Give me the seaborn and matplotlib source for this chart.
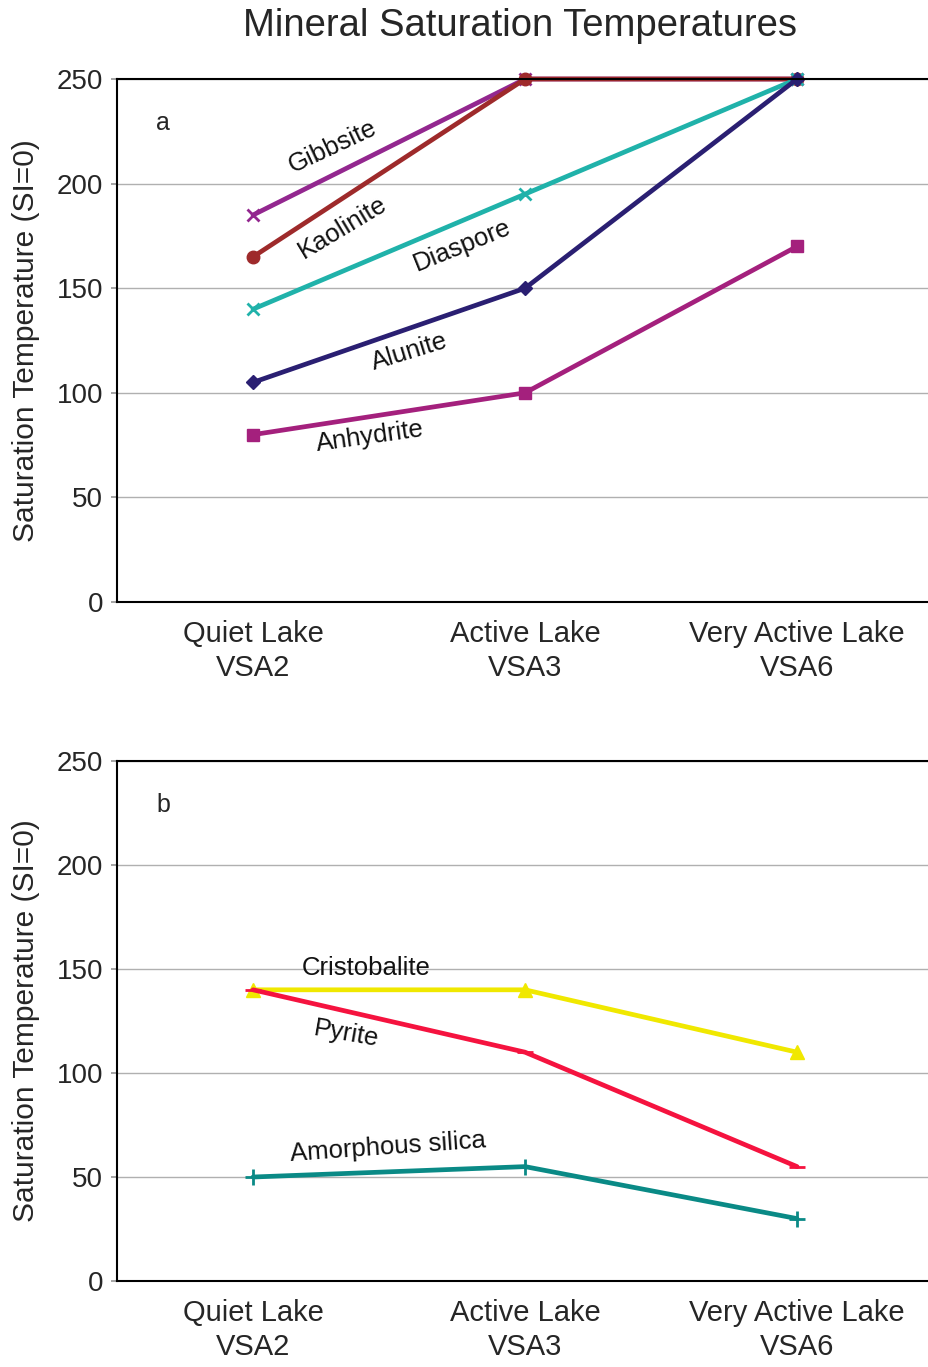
import matplotlib
matplotlib.use("Agg")
import matplotlib.pyplot as plt
import seaborn as sns
import pandas as pd

sns.set_theme(style="white")
plt.rcParams['font.family'] = ['Liberation Sans', 'DejaVu Sans']

categories = ["Quiet Lake\nVSA2", "Active Lake\nVSA3", "Very Active Lake\nVSA6"]
xpos = [0, 1, 2]

# Panel a
gibbsite = [185, 250, 250]
kaolinite = [165, 250, 250]
diaspore = [140, 195, 250]
alunite = [105, 150, 250]
anhydrite = [80, 100, 170]

# Panel b
cristobalite = [140, 140, 110]
pyrite = [140, 110, 55]
amorphous_silica = [50, 55, 30]

yticks = [0, 50, 100, 150, 200, 250]

series_a = [
    ("Gibbsite", gibbsite, "#93278F", "x", 9, (0.294, 217.5), 25),
    ("Kaolinite", kaolinite, "#9E2A2B", "o", 9, (0.331, 178.8), 31),
    ("Diaspore", diaspore, "#20B2AA", "x", 8, (0.768, 170.6), 22),
    ("Alunite", alunite, "#2A1F72", "D", 7, (0.574, 119.5), 17),
    ("Anhydrite", anhydrite, "#A4207D", "s", 9, (0.43, 79.0), 8),
]
series_b = [
    ("Cristobalite", cristobalite, "#F0E800", "^", 10, (0.415, 150.5), 0),
    ("Pyrite", pyrite, "#F5133F", "_", 12, (0.342, 118.75), -10),
    ("Amorphous silica", amorphous_silica, "#0A8A86", "+", 11, (0.496, 64.4), 4),
]

fig = plt.figure(figsize=(9.29, 13.67), dpi=100)
ax_a = fig.add_axes([0.126, 0.5596, 0.874, 0.3826])
ax_b = fig.add_axes([0.126, 0.0629, 0.874, 0.3804])

def style(ax, letter):
    ax.set_xlim(-0.5, 2.485)
    ax.set_ylim(0, 250)
    ax.set_yticks(yticks)
    ax.yaxis.grid(True, color="#b0b0b0", linewidth=1)
    ax.xaxis.grid(False)
    ax.set_axisbelow(True)
    for s in ["left", "bottom", "top"]:
        ax.spines[s].set_visible(True)
        ax.spines[s].set_color("black")
        ax.spines[s].set_linewidth(1.5)
    ax.spines["right"].set_visible(False)
    ax.set_xticks(xpos)
    ax.set_xticklabels(categories, fontsize=21, linespacing=1.25)
    ax.tick_params(axis="x", which="major", length=0, pad=13)
    ax.set_xticks([0.5, 1.5], minor=True)
    ax.tick_params(axis="x", which="minor", direction="inout", length=22, width=1.5, color="black")
    ax.tick_params(axis="y", labelsize=20, length=4, color="#999999", left=True, pad=6)
    ax.set_ylabel("Saturation Temperature (SI=0)", fontsize=21.5, labelpad=12)
    ax.set_xlabel("")
    ax.text(-0.331, 229, letter, fontsize=18, ha="center", va="center")

for ax, series, letter in [(ax_a, series_a, "a"), (ax_b, series_b, "b")]:
    for name, vals, color, marker, ms, (tx, ty), rot in series:
        df = pd.DataFrame({"x": xpos, "y": vals})
        sns.lineplot(data=df, x="x", y="y", ax=ax, color=color, linewidth=3.4,
                     marker=marker, markersize=ms, markeredgecolor=color,
                     markeredgewidth=2 if marker in ("x", "+", "_") else 1, clip_on=False)
        ax.text(tx, ty, name, fontsize=18.5, rotation=rot, ha="center", va="center",
                rotation_mode="anchor", color="#111111")
    style(ax, letter)

fig.text(0.56, 0.981, "Mineral Saturation Temperatures", fontsize=27.5, ha="center", va="center")

fig.savefig("out.png", dpi=100)
